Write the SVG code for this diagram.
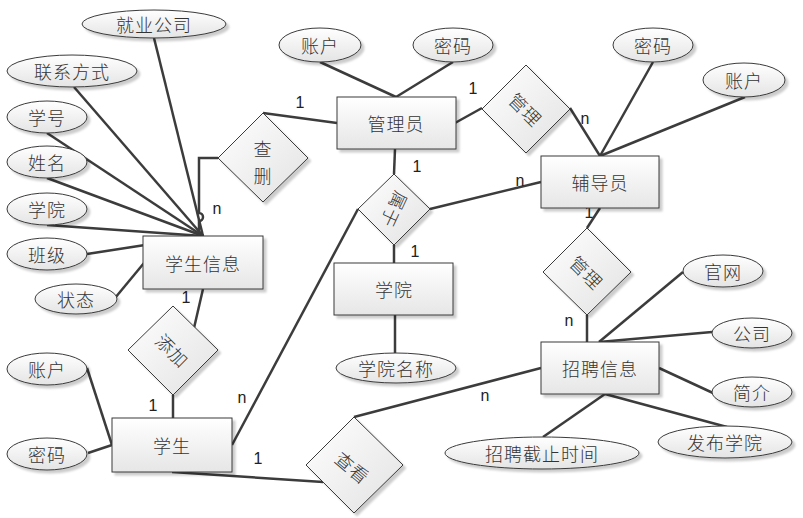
<svg xmlns="http://www.w3.org/2000/svg" width="803" height="518" viewBox="0 0 803 518">
<style>
.bg{fill:#ffffff}
.shape{stroke:#3a3a3a;stroke-width:1;filter:url(#sh)}
.ent{fill:url(#gr)}
.att{fill:url(#ge)}
.rel{fill:url(#gd)}
.t{font-family:"Noto Sans CJK SC","Noto Sans CJK JP",sans-serif;font-size:18px;font-weight:300;letter-spacing:1px;fill:#333;text-anchor:middle;dominant-baseline:central}
.c{fill:none;stroke:#3c3c3c;stroke-width:2.5}
.m{font-family:"Liberation Sans",Arial,sans-serif;font-size:16px;fill:#222;text-anchor:middle}
</style>
<defs>
<linearGradient id="gr" x1="0" y1="0" x2="0" y2="1"><stop offset="0" stop-color="#ffffff"/><stop offset="1" stop-color="#e6e6e6"/></linearGradient>
<linearGradient id="ge" x1="0" y1="0" x2="0" y2="1"><stop offset="0" stop-color="#ffffff"/><stop offset="1" stop-color="#e4e4e4"/></linearGradient>
<linearGradient id="gd" x1="0" y1="0" x2="1" y2="1"><stop offset="0" stop-color="#ffffff"/><stop offset="1" stop-color="#e2e2e2"/></linearGradient>
<filter id="sh" x="-20%" y="-20%" width="150%" height="150%"><feDropShadow dx="3" dy="3" stdDeviation="1.2" flood-color="#000" flood-opacity="0.2"/></filter>
</defs>
<rect class="bg" x="0" y="0" width="803" height="518"/>
<g id="connectors">
<line class="c" x1="154" y1="38" x2="203" y2="236"/>
<line class="c" x1="74" y1="87" x2="203" y2="236"/>
<line class="c" x1="47" y1="133" x2="203" y2="236"/>
<line class="c" x1="47" y1="178" x2="203" y2="236"/>
<line class="c" x1="47" y1="225" x2="203" y2="236"/>
<line class="c" x1="87" y1="254" x2="203" y2="236"/>
<line class="c" x1="115" y1="298" x2="144" y2="263"/>
<path class="c" d="M218,158 H199 V213 A4,4 0 0 1 199,221 V232 L203,236"/>
<line class="c" x1="263" y1="113" x2="337" y2="123"/>
<line class="c" x1="320" y1="62" x2="396" y2="97"/>
<line class="c" x1="453" y1="62" x2="396" y2="97"/>
<line class="c" x1="455" y1="123" x2="482" y2="108"/>
<line class="c" x1="570" y1="108" x2="600" y2="156"/>
<line class="c" x1="653" y1="62" x2="600" y2="156"/>
<line class="c" x1="745" y1="97" x2="600" y2="156"/>
<line class="c" x1="395" y1="149" x2="394" y2="174"/>
<line class="c" x1="430" y1="209" x2="541" y2="182"/>
<line class="c" x1="394" y1="245" x2="394" y2="263"/>
<line class="c" x1="358" y1="209" x2="232" y2="445"/>
<line class="c" x1="395" y1="315" x2="395" y2="353"/>
<line class="c" x1="203" y1="289" x2="194" y2="328"/>
<line class="c" x1="173" y1="395" x2="173" y2="418"/>
<line class="c" x1="87" y1="368" x2="112" y2="445"/>
<line class="c" x1="88" y1="453" x2="112" y2="445"/>
<line class="c" x1="172" y1="472" x2="323" y2="482"/>
<line class="c" x1="354" y1="417" x2="541" y2="368"/>
<line class="c" x1="600" y1="208" x2="587" y2="228"/>
<line class="c" x1="587" y1="315" x2="587" y2="342"/>
<line class="c" x1="683" y1="272" x2="599" y2="342"/>
<line class="c" x1="712" y1="332" x2="599" y2="342"/>
<line class="c" x1="659" y1="368" x2="713" y2="393"/>
<line class="c" x1="605" y1="394" x2="727" y2="427"/>
<line class="c" x1="605" y1="394" x2="543" y2="437"/>
</g>
<g id="labels">
<text class="m" x="217" y="214">n</text>
<text class="m" x="300" y="108">1</text>
<text class="m" x="473" y="94">1</text>
<text class="m" x="585" y="124">n</text>
<text class="m" x="417" y="172">1</text>
<text class="m" x="520" y="186">n</text>
<text class="m" x="415" y="257">1</text>
<text class="m" x="589" y="218">1</text>
<text class="m" x="569" y="326">n</text>
<text class="m" x="186" y="303">1</text>
<text class="m" x="153" y="411">1</text>
<text class="m" x="242" y="403">n</text>
<text class="m" x="258" y="464">1</text>
<text class="m" x="485" y="401">n</text>
</g>
<g id="attr-jiuye"><ellipse class="shape att" cx="154" cy="24" rx="72" ry="14"/><text class="t" x="154" y="24">就业公司</text></g>
<g id="attr-lianxi"><ellipse class="shape att" cx="72" cy="71" rx="65" ry="16"/><text class="t" x="72" y="71">联系方式</text></g>
<g id="attr-xuehao"><ellipse class="shape att" cx="47" cy="117" rx="40" ry="16"/><text class="t" x="47" y="117">学号</text></g>
<g id="attr-xingming"><ellipse class="shape att" cx="47" cy="162" rx="40" ry="16"/><text class="t" x="47" y="162">姓名</text></g>
<g id="attr-xueyuan"><ellipse class="shape att" cx="47" cy="209" rx="40" ry="16"/><text class="t" x="47" y="209">学院</text></g>
<g id="attr-banji"><ellipse class="shape att" cx="47" cy="254" rx="40" ry="16"/><text class="t" x="47" y="254">班级</text></g>
<g id="attr-zhuangtai"><ellipse class="shape att" cx="76" cy="299" rx="41" ry="15"/><text class="t" x="76" y="299">状态</text></g>
<g id="ent-xueshengxinxi"><rect class="shape ent" x="143" y="236" width="120" height="53"/><text class="t" x="203" y="263">学生信息</text></g>
<g id="rel-chashan"><polygon class="shape rel" points="263,113 308,158 263,202 218,158"/><text class="t" x="263" y="148">查</text><text class="t" x="263" y="175">删</text></g>
<g id="attr-admin-zhanghu"><ellipse class="shape att" cx="320" cy="45" rx="41" ry="17"/><text class="t" x="320" y="45">账户</text></g>
<g id="attr-admin-mima"><ellipse class="shape att" cx="453" cy="45" rx="40" ry="17"/><text class="t" x="453" y="45">密码</text></g>
<g id="ent-guanliyuan"><rect class="shape ent" x="337" y="97" width="119" height="52"/><text class="t" x="396" y="123">管理员</text></g>
<g id="rel-guanli1"><polygon class="shape rel" points="526,65 570,109 526,153 482,109"/><text class="t" transform="translate(526,109) rotate(45)" x="0" y="0">管理</text></g>
<g id="attr-fdy-mima"><ellipse class="shape att" cx="653" cy="45" rx="40" ry="17"/><text class="t" x="653" y="45">密码</text></g>
<g id="attr-fdy-zhanghu"><ellipse class="shape att" cx="744" cy="80" rx="41" ry="17"/><text class="t" x="744" y="80">账户</text></g>
<g id="ent-fudaoyuan"><rect class="shape ent" x="541" y="156" width="118" height="52"/><text class="t" x="600" y="182">辅导员</text></g>
<g id="rel-shuyu"><polygon class="shape rel" points="394,174 430,209 394,245 358,209"/><text class="t" transform="translate(395,210) rotate(115)" x="0" y="0">属于</text></g>
<g id="ent-xueyuan"><rect class="shape ent" x="334" y="263" width="119" height="52"/><text class="t" x="394" y="289">学院</text></g>
<g id="attr-xueyuanmingcheng"><ellipse class="shape att" cx="396" cy="368" rx="60" ry="15"/><text class="t" x="396" y="368">学院名称</text></g>
<g id="rel-tianjia"><polygon class="shape rel" points="173,306 218,350 173,395 128,350"/><text class="t" transform="translate(173,350) rotate(45)" x="0" y="0">添加</text></g>
<g id="attr-xs-zhanghu"><ellipse class="shape att" cx="47" cy="369" rx="40" ry="16"/><text class="t" x="47" y="369">账户</text></g>
<g id="attr-xs-mima"><ellipse class="shape att" cx="47" cy="454" rx="40" ry="16"/><text class="t" x="47" y="454">密码</text></g>
<g id="ent-xuesheng"><rect class="shape ent" x="112" y="418" width="120" height="54"/><text class="t" x="172" y="445">学生</text></g>
<g id="rel-chakan"><polygon class="shape rel" points="354,417 403,465 354,513 306,465"/><text class="t" transform="translate(353,467) rotate(40)" x="0" y="0">查看</text></g>
<g id="rel-guanli2"><polygon class="shape rel" points="587,228 631,272 587,315 543,272"/><text class="t" transform="translate(587,272) rotate(45)" x="0" y="0">管理</text></g>
<g id="attr-guanwang"><ellipse class="shape att" cx="723" cy="271" rx="40" ry="16"/><text class="t" x="723" y="271">官网</text></g>
<g id="attr-gongsi"><ellipse class="shape att" cx="752" cy="333" rx="40" ry="15"/><text class="t" x="752" y="333">公司</text></g>
<g id="attr-jianjie"><ellipse class="shape att" cx="752" cy="392" rx="40" ry="15"/><text class="t" x="752" y="392">简介</text></g>
<g id="ent-zhaopinxinxi"><rect class="shape ent" x="541" y="342" width="118" height="52"/><text class="t" x="600" y="368">招聘信息</text></g>
<g id="attr-fabuxueyuan"><ellipse class="shape att" cx="725" cy="442" rx="67" ry="16"/><text class="t" x="725" y="442">发布学院</text></g>
<g id="attr-jiezhi"><ellipse class="shape att" cx="542" cy="453" rx="97" ry="16"/><text class="t" x="542" y="453">招聘截止时间</text></g>
</svg>
